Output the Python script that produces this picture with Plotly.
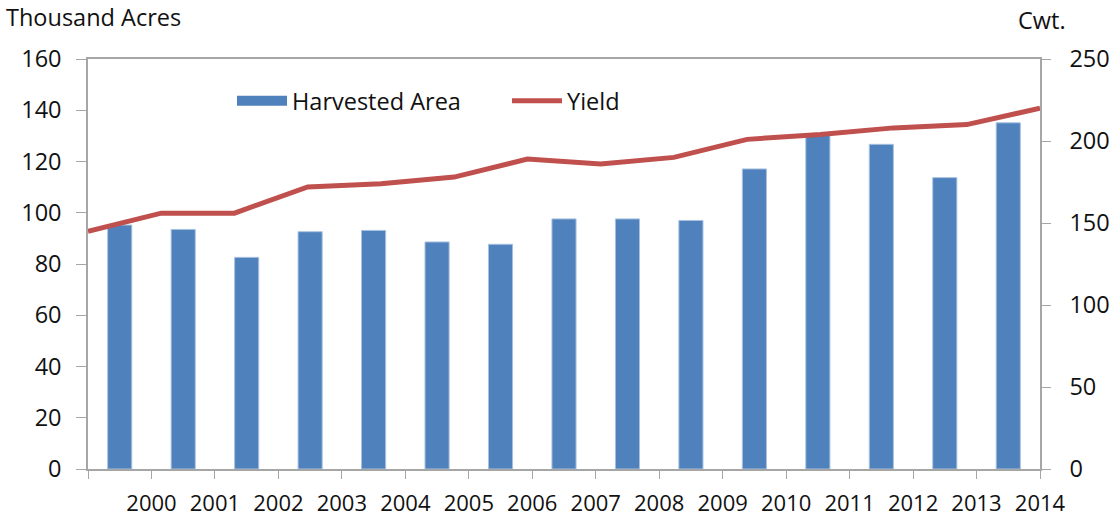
import plotly.graph_objects as go

years = ["2000", "2001", "2002", "2003", "2004", "2005", "2006", "2007",
         "2008", "2009", "2010", "2011", "2012", "2013", "2014"]
harvested_area = [95.2, 93.5, 82.6, 92.6, 93.1, 88.6, 87.7, 97.6, 97.6, 97.0,
                  117.1, 130.3, 126.7, 113.7, 135.1]
yield_cwt = [145, 156, 156, 172, 174, 178, 189, 186, 190, 201, 204, 208, 210, 220]

FONT = "Open Sans"
FS = 23.5
AX = "#A6A6A6"
BLUE = "#4F81BD"
RED = "#C0504D"
n = len(years)

W, H = 1109, 519
L, R, T, B = 88, 1040, 59, 469   # plot area in page pixels
PW, PH = R - L, B - T

bar_x = [i + 0.5 for i in range(n)]
line_x = list(range(len(yield_cwt)))

fig = go.Figure()
fig.add_trace(go.Bar(
    x=bar_x, y=harvested_area, name="Harvested Area",
    marker=dict(color=BLUE, line=dict(color="#A9C1E0", width=1)),
    width=0.38, xaxis="x", yaxis="y", showlegend=False,
))
# legend proxy for the bar series (wide rectangular swatch)
fig.add_trace(go.Scatter(
    x=[None], y=[None], name="Harvested Area", mode="lines",
    line=dict(color=BLUE, width=16), xaxis="x", yaxis="y", hoverinfo="skip",
))
fig.add_trace(go.Scatter(
    x=line_x, y=yield_cwt, name="Yield", mode="lines",
    line=dict(color=RED, width=5),
    xaxis="x2", yaxis="y2",
))

fig.update_layout(
    width=W, height=H,
    margin=dict(l=L, r=W - R, t=T, b=H - B),
    paper_bgcolor="white", plot_bgcolor="white",
    font=dict(family=FONT, size=FS, color="#111111"),
    showlegend=True,
    legend=dict(orientation="h", x=(232 - L) / PW, y=(B - 101) / PH,
                xanchor="left", yanchor="middle",
                font=dict(size=FS), bgcolor="rgba(0,0,0,0)", itemwidth=50,
                entrywidth=210, traceorder="normal"),
    xaxis=dict(range=[0, n], tickvals=list(range(n + 1)),
               ticktext=[""] + years, showline=True, linecolor=AX, linewidth=1.5,
               ticks="outside", ticklen=8, tickcolor=AX, showgrid=False,
               zeroline=False, ticklabelstandoff=6, fixedrange=True,
               tickfont=dict(size=22), automargin=False),
    xaxis2=dict(range=[0, len(yield_cwt) - 1], overlaying="x", side="top",
                showline=True, linecolor=AX, linewidth=1.5, showticklabels=False,
                ticks="", showgrid=False, zeroline=False, automargin=False),
    yaxis=dict(range=[0, 160], dtick=20, showline=True, linecolor=AX, linewidth=1.5,
               ticks="outside", ticklen=10, tickcolor=AX, showgrid=False,
               zeroline=False, ticklabelstandoff=10, automargin=False),
    yaxis2=dict(range=[0, 250], dtick=50, overlaying="y", side="right",
                showline=True, linecolor=AX, linewidth=1.5, ticks="outside",
                ticklen=9, tickcolor=AX, showgrid=False, zeroline=False,
                ticklabelstandoff=14, automargin=False),
    annotations=[
        dict(text="Thousand Acres", xref="paper", yref="paper", x=(4 - L) / PW,
             y=(B - 17) / PH, xanchor="left", yanchor="middle", showarrow=False,
             font=dict(size=FS)),
        dict(text="Cwt.", xref="paper", yref="paper", x=(1042 - L) / PW,
             y=(B - 20) / PH, xanchor="center", yanchor="middle", showarrow=False,
             font=dict(size=FS)),
    ],
)

fig.write_html(
    "out.html",
    config={"displayModeBar": False},
    post_script="document.body.style.margin='0';document.body.style.overflow='hidden';",
)
